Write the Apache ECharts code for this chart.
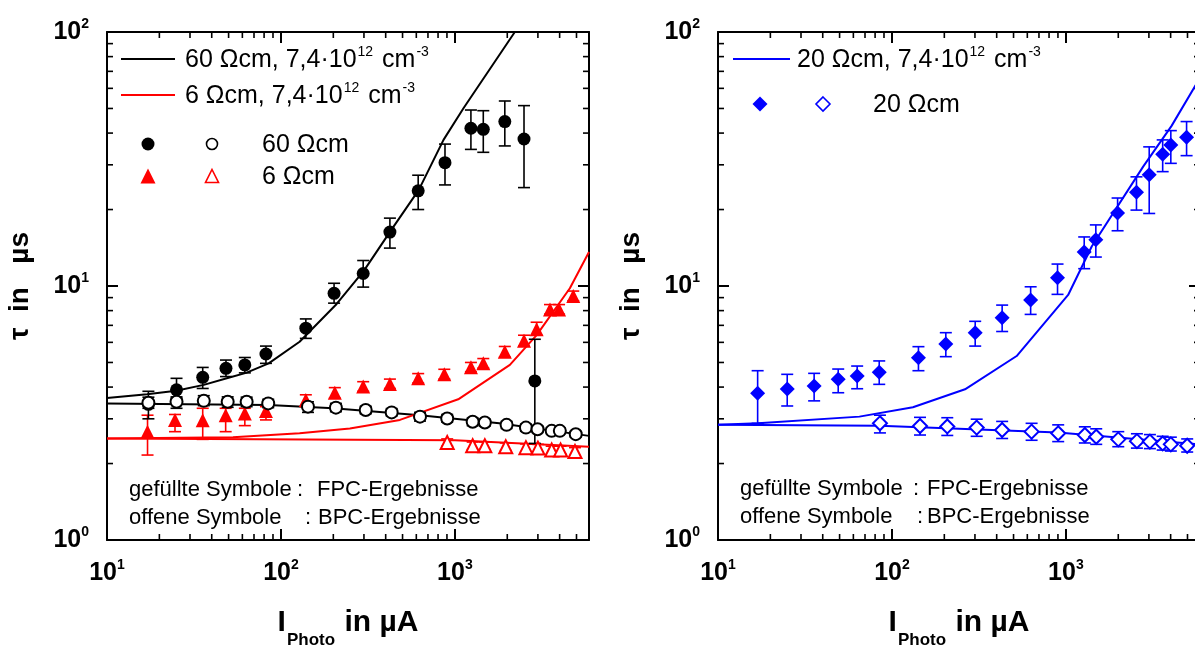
<!DOCTYPE html>
<html><head><meta charset="utf-8">
<script src="https://cdn.jsdelivr.net/npm/echarts@6/dist/echarts.min.js"></script>
<style>html,body{margin:0;padding:0;background:#fff}#c{width:1195px;height:646px}</style>
</head><body><div id="c"></div>
<script>
// ---------- DATA ----------
// Left panel: 60 Ohm cm (black) and 6 Ohm cm (red)
const x60f  = [17.3, 25.1, 35.5, 48.3, 62, 82, 139, 202, 297, 423, 615, 877, 1236, 1456, 1936, 2496, 2880];
const y60f  = [3.42, 3.90, 4.37, 4.74, 4.89, 5.40, 6.82, 9.36, 11.2, 16.3, 23.7, 30.6, 41.8, 41.4, 44.4, 37.9, 4.23];
const lo60f = [3.00, 3.62, 3.95, 4.40, 4.55, 4.96, 6.22, 8.56, 9.9, 14.1, 20.0, 25.0, 34.5, 33.6, 35.6, 24.4, 2.40];
const hi60f = [3.85, 4.33, 4.78, 5.11, 5.23, 5.80, 7.42, 10.25, 12.6, 18.5, 27.3, 36.2, 49.3, 49.0, 53.5, 51.3, 6.17];

const x60o  = [17.3, 25.1, 36, 49.4, 63.5, 84.5, 143, 207, 307, 433, 630, 903, 1265, 1486, 1982, 2560, 2985, 3600, 4010, 4950];
const y60o  = [3.47, 3.50, 3.53, 3.50, 3.50, 3.45, 3.35, 3.32, 3.25, 3.18, 3.06, 3.01, 2.92, 2.90, 2.84, 2.77, 2.73, 2.69, 2.69, 2.61];
const lo60o = [3.30, 3.30, 3.38, 3.33, 3.35, 3.32, 3.18, 3.20, 3.14, 3.08, 2.94, 2.91, 2.82, 2.81, 2.75, 2.68, 2.65, 2.62, 2.62, 2.54];
const hi60o = [3.65, 3.66, 3.70, 3.66, 3.65, 3.58, 3.50, 3.45, 3.36, 3.29, 3.18, 3.12, 3.02, 2.99, 2.93, 2.86, 2.81, 2.77, 2.76, 2.68];

const x6f  = [17.1, 24.6, 35.5, 48.1, 62, 82, 139, 204, 297, 423, 615, 869, 1236, 1456, 1936, 2496, 2950, 3520, 3970, 4790];
const y6f  = [2.67, 2.97, 2.96, 3.10, 3.15, 3.22, 3.56, 3.80, 4.02, 4.11, 4.33, 4.49, 4.79, 4.96, 5.51, 6.09, 6.75, 8.09, 8.09, 9.14];
const lo6f = [2.16, 2.67, 2.49, 2.67, 2.82, 2.97, 3.35, 3.62, 3.85, 3.95, 4.15, 4.30, 4.60, 4.75, 5.25, 5.80, 6.40, 7.75, 7.75, 8.75];
const hi6f = [3.10, 3.12, 3.30, 3.30, 3.30, 3.35, 3.73, 3.98, 4.20, 4.30, 4.52, 4.70, 5.00, 5.18, 5.78, 6.40, 7.20, 8.45, 8.45, 9.55];

const x6o  = [903, 1265, 1486, 1960, 2560, 3000, 3600, 4050, 4900];
const y6o  = [2.42, 2.35, 2.35, 2.33, 2.31, 2.30, 2.26, 2.26, 2.23];
const lo6o = [2.34, 2.27, 2.27, 2.25, 2.23, 2.22, 2.18, 2.18, 2.15];
const hi6o = [2.50, 2.43, 2.43, 2.41, 2.39, 2.38, 2.34, 2.34, 2.31];

// model curves, left panel
const xFit60f = [10, 17, 25, 36, 50, 63, 85, 128, 209, 300, 430, 620, 860, 1120, 2210, 3000];
const yFit60f = [3.62, 3.75, 3.87, 4.08, 4.35, 4.55, 4.96, 6.03, 8.5, 11.5, 16.6, 23.9, 37.6, 50.1, 100, 137];
const xFit60o = [10, 85, 200, 630, 1800, 5900];
const yFit60o = [3.45, 3.40, 3.30, 3.10, 2.88, 2.57];
const xFit6f  = [10, 53, 128, 249, 483, 1045, 2070, 2950, 4580, 5900];
const yFit6f  = [2.51, 2.54, 2.63, 2.75, 2.97, 3.58, 4.89, 6.41, 9.8, 13.6];
const xFit6o  = [10, 1000, 5900];
const yFit6o  = [2.51, 2.47, 2.33];

// Right panel: 20 Ohm cm (blue)
const x20f  = [16.9, 25.0, 35.7, 49.1, 63.1, 84.5, 142, 204, 301, 430, 627, 895, 1274, 1486, 1982, 2545, 3012, 3600, 4010, 4940];
const y20f  = [3.78, 3.93, 4.04, 4.29, 4.42, 4.58, 5.22, 5.91, 6.55, 7.50, 8.81, 10.78, 13.6, 15.2, 19.4, 23.4, 27.4, 33.0, 35.9, 38.5];
const lo20f = [2.88, 3.37, 3.53, 3.80, 3.94, 4.10, 4.64, 5.27, 5.80, 6.62, 7.73, 9.27, 11.7, 13.0, 16.5, 19.9, 19.3, 28.2, 30.4, 32.6];
const hi20f = [4.64, 4.49, 4.53, 4.71, 4.84, 5.07, 5.77, 6.55, 7.26, 8.41, 9.93, 12.2, 15.6, 17.4, 22.2, 26.9, 35.3, 37.6, 40.9, 44.4];

const x20o  = [85.3, 145, 208, 307, 430, 635, 903, 1285, 1494, 2000, 2560, 3040, 3600, 4010, 4980];
const y20o  = [2.88, 2.81, 2.80, 2.77, 2.71, 2.67, 2.63, 2.59, 2.55, 2.49, 2.45, 2.44, 2.40, 2.38, 2.35];
const lo20o = [2.64, 2.59, 2.58, 2.56, 2.51, 2.47, 2.44, 2.41, 2.38, 2.33, 2.30, 2.29, 2.26, 2.24, 2.22];
const hi20o = [3.10, 3.04, 3.03, 2.99, 2.93, 2.88, 2.84, 2.79, 2.74, 2.67, 2.62, 2.60, 2.56, 2.54, 2.50];

const xFit20f = [10, 17, 65, 132, 263, 521, 1030, 1407, 2780, 4050, 5900];
const yFit20f = [2.84, 2.88, 3.06, 3.33, 3.92, 5.30, 9.22, 14.3, 29.5, 42.7, 66];
const xFit20o = [10, 85, 900, 5900];
const yFit20o = [2.84, 2.82, 2.65, 2.38];

// axis ranges and minor ticks
const xMin = 10, xMax = 5900, yMin = 1, yMax = 100;
const minorX = [20, 30, 40, 50, 60, 70, 80, 90, 200, 300, 400, 500, 600, 700, 800, 900, 2000, 3000, 4000, 5000];
const minorY = [2, 3, 4, 5, 6, 7, 8, 9, 20, 30, 40, 50, 60, 70, 80, 90];

// ---------- CHART ----------
const FONT = '"Liberation Sans", Arial, Helvetica, sans-serif';
const BLACK = '#000000', RED = '#ff0000', BLUE = '#0000ff';

const pts = (xs, ys) => xs.map((x, i) => [x, ys[i]]);
const errs = (xs, lo, hi) => xs.map((x, i) => [x, lo[i], hi[i]]);

function errorSeries(xs, lo, hi, color, gi) {
  return {
    type: 'custom', xAxisIndex: gi * 2, yAxisIndex: gi * 2, z: 3, silent: true,
    data: errs(xs, lo, hi), encode: { x: 0, y: [1, 2] },
    renderItem(params, api) {
      const x = api.value(0);
      const t = api.coord([x, api.value(2)]);
      const b = api.coord([x, api.value(1)]);
      const w = 6, st = { stroke: color, lineWidth: 1.6 };
      return { type: 'group', children: [
        { type: 'line', shape: { x1: t[0], y1: t[1], x2: b[0], y2: b[1] }, style: st },
        { type: 'line', shape: { x1: t[0] - w, y1: t[1], x2: t[0] + w, y2: t[1] }, style: st },
        { type: 'line', shape: { x1: b[0] - w, y1: b[1], x2: b[0] + w, y2: b[1] }, style: st }
      ]};
    }
  };
}
function lineSeries(xs, ys, color, gi) {
  return { type: 'line', xAxisIndex: gi * 2, yAxisIndex: gi * 2, data: pts(xs, ys), symbol: 'none',
    lineStyle: { color, width: 2 }, z: 2, clip: true, silent: true, animation: false };
}
function scatterSeries(xs, ys, color, symbol, size, gi, z) {
  const empty = symbol.indexOf('empty') === 0;
  return { type: 'scatter', xAxisIndex: gi * 2, yAxisIndex: gi * 2, data: pts(xs, ys), symbol, symbolSize: size,
    itemStyle: empty ? { color: color, borderColor: color, borderWidth: 1.6, opacity: 1 } : { color: color, opacity: 1 },
    z: z || 4, silent: true, animation: false };
}
function minorTickSeries(gi) {
  return [
    { type: 'custom', xAxisIndex: gi * 2, yAxisIndex: gi * 2, z: 1, silent: true,
      data: minorX.map(v => [v, 10]), encode: { x: 0, y: 1 },
      renderItem(params, api) {
        const cs = params.coordSys; const px = api.coord([api.value(0), 10])[0];
        const st = { stroke: '#000', lineWidth: 1.6 };
        return { type: 'group', children: [
          { type: 'line', shape: { x1: px, y1: cs.y, x2: px, y2: cs.y + 6 }, style: st },
          { type: 'line', shape: { x1: px, y1: cs.y + cs.height, x2: px, y2: cs.y + cs.height - 6 }, style: st }
        ]};
      } },
    { type: 'custom', xAxisIndex: gi * 2, yAxisIndex: gi * 2, z: 1, silent: true,
      data: minorY.map(v => [20, v]), encode: { x: 0, y: 1 },
      renderItem(params, api) {
        const cs = params.coordSys; const py = api.coord([20, api.value(1)])[1];
        const st = { stroke: '#000', lineWidth: 1.6 };
        return { type: 'group', children: [
          { type: 'line', shape: { x1: cs.x, y1: py, x2: cs.x + 6, y2: py }, style: st },
          { type: 'line', shape: { x1: cs.x + cs.width, y1: py, x2: cs.x + cs.width - 6, y2: py }, style: st }
        ]};
      } }
  ];
}

const powRich = {
  b: { fontFamily: FONT, fontWeight: 'bold', fontSize: 25, color: '#000', lineHeight: 30 },
  s: { fontFamily: FONT, fontWeight: 'bold', fontSize: 14, color: '#000', lineHeight: 14, verticalAlign: 'top' }
};
const powFmt = v => {
  const e = Math.log10(v);
  if (Math.abs(e - Math.round(e)) > 1e-6) return '';
  return '{b|10}{s|' + Math.round(e) + '}';
};
const axLine = { show: true, lineStyle: { color: '#000', width: 2 } };
const axTick = { show: true, inside: true, length: 11, lineStyle: { color: '#000', width: 2 } };

function xAxes(gi) {
  return [
    { type: 'log', gridIndex: gi, min: xMin, max: xMax, position: 'bottom', axisLine: axLine, axisTick: axTick,
      splitLine: { show: false },
      axisLabel: { formatter: powFmt, rich: powRich, margin: 18, showMaxLabel: false },
      name: '{a|I}{c|Photo}{a| in µA}', nameLocation: 'middle', nameGap: 68,
      nameTextStyle: { rich: {
        a: { fontFamily: FONT, fontWeight: 'bold', fontSize: 30, color: '#000', lineHeight: 34, verticalAlign: 'top' },
        c: { fontFamily: FONT, fontWeight: 'bold', fontSize: 17, color: '#000', lineHeight: 16, verticalAlign: 'top', padding: [24, 1, 0, 1] }
      } } },
    { type: 'log', gridIndex: gi, min: xMin, max: xMax, position: 'top', axisLine: axLine, axisTick: axTick,
      splitLine: { show: false }, axisLabel: { show: false } }
  ];
}
function yAxes(gi) {
  return [
    { type: 'log', gridIndex: gi, min: yMin, max: yMax, position: 'left', axisLine: axLine, axisTick: axTick,
      splitLine: { show: false },
      axisLabel: { formatter: powFmt, rich: powRich, margin: 18 },
      name: 'τ  in   µs', nameLocation: 'middle', nameGap: 73, nameRotate: 90,
      nameTextStyle: { fontFamily: FONT, fontWeight: 'bold', fontSize: 28, color: '#000' } },
    { type: 'log', gridIndex: gi, min: yMin, max: yMax, position: 'right', axisLine: axLine, axisTick: axTick,
      splitLine: { show: false }, axisLabel: { show: false } }
  ];
}

// legend / annotation helpers (graphic)
const legRich = {
  a: { fontFamily: FONT, fontSize: 25, color: '#000', lineHeight: 29 },
  s: { fontFamily: FONT, fontSize: 14, color: '#000', lineHeight: 14, verticalAlign: 'top', padding: [0, 2, 0, 1] }
};
function txt(x, y, text, size) {
  return { type: 'text', x, y, silent: true, z: 10,
    style: { text, fontFamily: FONT, fontSize: size || 25, fill: '#000', textAlign: 'left', textVerticalAlign: 'middle' } };
}
function richTxt(x, y, text) {
  return { type: 'text', x, y, silent: true, z: 10,
    style: { text, rich: legRich, fill: '#000', textAlign: 'left', textVerticalAlign: 'middle', fontFamily: FONT, fontSize: 25 } };
}
function legLine(x1, x2, y, color) {
  return { type: 'line', silent: true, z: 10, shape: { x1, y1: y, x2, y2: y }, style: { stroke: color, lineWidth: 2.2 } };
}
function circ(cx, cy, r, filled, color) {
  return { type: 'circle', silent: true, z: 10, shape: { cx, cy, r },
    style: filled ? { fill: color } : { fill: '#fff', stroke: color, lineWidth: 1.6 } };
}
function tri(cx, cy, s, filled, color) {
  const h = s;
  return { type: 'polygon', silent: true, z: 10,
    shape: { points: [[cx, cy - h / 2], [cx + s / 2, cy + h / 2], [cx - s / 2, cy + h / 2]] },
    style: filled ? { fill: color } : { fill: '#fff', stroke: color, lineWidth: 1.6 } };
}
function dia(cx, cy, s, filled, color) {
  return { type: 'polygon', silent: true, z: 10,
    shape: { points: [[cx, cy - s / 2], [cx + s / 2, cy], [cx, cy + s / 2], [cx - s / 2, cy]] },
    style: filled ? { fill: color } : { fill: '#fff', stroke: color, lineWidth: 1.6 } };
}

const graphic = [
  // left legend
  legLine(121, 175, 59, BLACK), richTxt(185, 60, '{a|60 Ωcm, 7,4·10}{s|12}{a| cm}{s|-3}'),
  legLine(121, 175, 95, RED),   richTxt(185, 96, '{a|6 Ωcm, 7,4·10}{s|12}{a| cm}{s|-3}'),
  circ(148, 144, 6.5, true, BLACK), circ(212, 144, 5.5, false, BLACK), txt(262, 145, '60 Ωcm'),
  tri(148, 176, 15, true, RED), tri(212, 176, 13, false, RED), txt(262, 177, '6 Ωcm'),
  txt(129, 490, 'gefüllte Symbole', 22), txt(297, 490, ':', 22), txt(317, 490, 'FPC-Ergebnisse', 22),
  txt(129, 518, 'offene Symbole', 22),   txt(305, 518, ':', 22), txt(318, 518, 'BPC-Ergebnisse', 22),
  // right legend
  legLine(733, 790, 59, BLUE), richTxt(797, 60, '{a|20 Ωcm, 7,4·10}{s|12}{a| cm}{s|-3}'),
  dia(760, 104, 15, true, BLUE), dia(823, 104, 14, false, BLUE), txt(873, 105, '20 Ωcm'),
  txt(740, 489, 'gefüllte Symbole', 22), txt(913, 489, ':', 22), txt(927, 489, 'FPC-Ergebnisse', 22),
  txt(740, 517, 'offene Symbole', 22),   txt(917, 517, ':', 22), txt(927, 517, 'BPC-Ergebnisse', 22)
];

const option = {
  backgroundColor: '#fff',
  animation: false,
  grid: [
    { left: 107, top: 32, width: 482, height: 508, containLabel: false, outerBoundsMode: 'none' },
    { left: 718, top: 32, width: 482, height: 508, containLabel: false, outerBoundsMode: 'none' }
  ],
  xAxis: [...xAxes(0), ...xAxes(1)],
  yAxis: [...yAxes(0), ...yAxes(1)],
  graphic,
  series: [
    ...minorTickSeries(0), ...minorTickSeries(1),
    lineSeries(xFit60f, yFit60f, BLACK, 0),
    lineSeries(xFit60o, yFit60o, BLACK, 0),
    lineSeries(xFit6f, yFit6f, RED, 0),
    lineSeries(xFit6o, yFit6o, RED, 0),
    errorSeries(x6f, lo6f, hi6f, RED, 0),
    errorSeries(x6o, lo6o, hi6o, RED, 0),
    errorSeries(x60o, lo60o, hi60o, BLACK, 0),
    errorSeries(x60f, lo60f, hi60f, BLACK, 0),
    scatterSeries(x60f, y60f, BLACK, 'circle', 13, 0, 4),
    scatterSeries(x6f, y6f, RED, 'triangle', 14, 0, 5),
    scatterSeries(x6o, y6o, RED, 'emptyTriangle', 13, 0, 5),
    scatterSeries(x60o, y60o, BLACK, 'emptyCircle', 12, 0, 6),
    lineSeries(xFit20f, yFit20f, BLUE, 1),
    lineSeries(xFit20o, yFit20o, BLUE, 1),
    errorSeries(x20f, lo20f, hi20f, BLUE, 1),
    errorSeries(x20o, lo20o, hi20o, BLUE, 1),
    scatterSeries(x20f, y20f, BLUE, 'diamond', 15, 1),
    scatterSeries(x20o, y20o, BLUE, 'emptyDiamond', 14, 1)
  ]
};
const chart = echarts.init(document.getElementById('c'), null, { renderer: 'canvas' });
chart.setOption(option);
</script>
</body></html>
